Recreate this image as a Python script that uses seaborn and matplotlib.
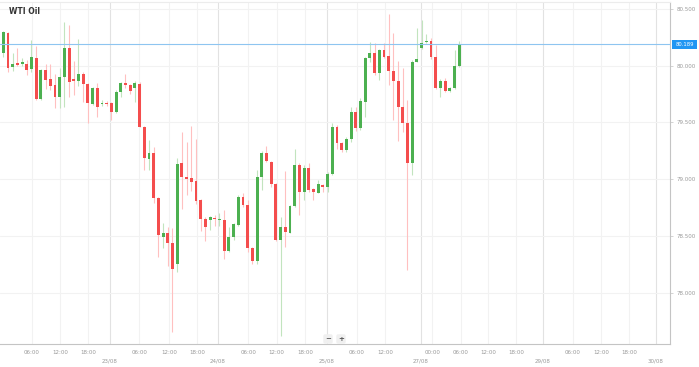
import numpy as np
import pandas as pd
import matplotlib.pyplot as plt
from matplotlib.patches import Rectangle
import seaborn as sns

# Hourly candles (bar index 0..97)
opens = [80.109, 80.285, 79.991, 80.015, 80.012, 80.012, 79.968, 80.065, 79.707, 79.962,
         79.880, 79.830, 79.727, 79.898, 80.153, 79.880, 79.865, 79.927, 79.839, 79.660,
         79.801, 79.660, 79.674, 79.669, 79.595, 79.771, 79.845, 79.830, 79.801, 79.839,
         79.463, 79.178, 79.229, 78.832, 78.496, 78.530, 78.436, 78.254, 79.140, 79.022,
         79.008, 78.987, 78.817, 78.650, 78.641, 78.656, 78.641, 78.641, 78.371, 78.494,
         78.597, 78.848, 78.773, 78.398, 78.283, 79.022, 79.234, 79.155, 78.958, 78.465,
         78.582, 78.530, 78.765, 79.126, 78.890, 79.097, 78.912, 78.883, 78.950, 78.934,
         79.046, 79.464, 79.319, 79.258, 79.352, 79.595, 79.449, 79.683, 80.065, 80.114,
         79.933, 80.138, 80.085, 79.953, 79.865, 79.633, 79.493, 79.146, 80.035, 80.158,
         80.208, 80.220, 80.074, 79.801, 79.868, 79.777, 79.801, 79.997]
highs = [80.305, 80.296, 80.109, 80.153, 80.065, 80.050, 80.226, 80.176, 79.971, 80.012,
         80.015, 79.927, 79.977, 80.387, 80.358, 80.041, 80.232, 79.947, 79.847, 79.812,
         79.845, 79.698, 79.689, 79.683, 79.786, 79.856, 79.927, 79.839, 79.868, 79.856,
         79.469, 79.346, 79.287, 78.844, 78.611, 78.577, 78.568, 79.184, 79.419, 79.331,
         79.469, 79.354, 78.826, 78.670, 78.677, 78.685, 78.700, 78.729, 78.582, 78.615,
         78.861, 78.876, 78.817, 78.406, 79.081, 79.249, 79.293, 79.163, 78.965, 78.670,
         79.073, 78.773, 79.264, 79.140, 79.126, 79.143, 78.923, 78.994, 78.958, 79.067,
         79.498, 79.478, 79.328, 79.375, 79.633, 79.633, 79.713, 80.076, 80.211, 80.197,
         80.147, 80.197, 80.455, 80.285, 80.041, 79.977, 79.698, 80.050, 80.329, 80.402,
         80.276, 80.243, 80.182, 79.883, 79.889, 79.808, 80.138, 80.220]
lows = [80.079, 79.947, 79.953, 79.997, 80.000, 79.918, 79.947, 79.698, 79.698, 79.792,
        79.786, 79.625, 79.630, 79.634, 79.727, 79.742, 79.821, 79.683, 79.493, 79.654,
        79.551, 79.645, 79.649, 79.522, 79.583, 79.727, 79.803, 79.751, 79.683, 79.456,
        79.081, 79.081, 78.788, 78.318, 78.392, 78.239, 77.658, 78.186, 78.736, 78.861,
        78.899, 78.780, 78.547, 78.459, 78.553, 78.589, 78.589, 78.295, 78.360, 78.465,
        78.589, 78.759, 78.362, 78.254, 78.254, 78.905, 79.152, 78.929, 78.456, 77.620,
        78.406, 78.523, 78.756, 78.685, 78.817, 78.888, 78.817, 78.879, 78.890, 78.890,
        79.038, 79.264, 79.243, 79.243, 79.331, 79.425, 79.434, 79.551, 80.035, 79.918,
        79.874, 80.067, 79.830, 79.522, 79.339, 79.419, 78.201, 79.038, 80.028, 80.147,
        80.199, 80.059, 79.795, 79.721, 79.768, 79.771, 79.795, 79.988]
closes = [80.294, 79.977, 80.012, 80.006, 80.030, 79.962, 80.074, 79.704, 79.962, 79.874,
          79.821, 79.727, 79.903, 80.153, 79.854, 79.865, 79.927, 79.839, 79.669, 79.801,
          79.639, 79.671, 79.660, 79.595, 79.771, 79.845, 79.830, 79.780, 79.845, 79.463,
          79.185, 79.229, 78.838, 78.505, 78.527, 78.436, 78.210, 79.134, 79.017, 78.999,
          78.978, 78.811, 78.650, 78.577, 78.665, 78.648, 78.650, 78.371, 78.494, 78.603,
          78.844, 78.773, 78.398, 78.283, 79.022, 79.234, 79.163, 78.958, 78.465, 78.582,
          78.538, 78.765, 79.126, 78.890, 79.097, 78.905, 78.890, 78.958, 78.936, 79.046,
          79.457, 79.319, 79.258, 79.352, 79.595, 79.449, 79.692, 80.065, 80.114, 79.933,
          80.138, 80.079, 79.953, 79.862, 79.633, 79.493, 79.146, 80.035, 80.056, 80.202,
          80.220, 80.074, 79.801, 79.868, 79.777, 79.801, 79.997, 80.189]

last_price = 80.189

# axis ticks, in bar units
hour_ticks = [6.04, 12.06, 18.09, 28.98, 35.32, 41.21, 52.17, 58.13, 64.19,
              75.26, 81.21, 91.28, 97.38, 103.13, 109.09, 121.21, 127.17, 133.13]
hour_labels = ["06:00", "12:00", "18:00", "06:00", "12:00", "18:00", "06:00", "12:00", "18:00",
               "06:00", "12:00", "00:00", "06:00", "12:00", "18:00", "06:00", "12:00", "18:00"]
date_ticks = [22.64, 45.62, 68.77, 88.81, 114.83, 138.87]
date_labels = ["23/08", "24/08", "25/08", "27/08", "29/08", "30/08"]
price_ticks = [78.0, 78.5, 79.0, 79.5, 80.0, 80.5]

df = pd.DataFrame({"open": opens, "high": highs, "low": lows, "close": closes})
df["x"] = np.arange(len(df))
df["up"] = df["close"] >= df["open"]
df["bottom"] = df[["open", "close"]].min(axis=1)
df["height"] = (df["close"] - df["open"]).abs().clip(lower=0.013)

green, red = "#4cb050", "#f44d4d"
green_wick, red_wick = "#c2e4be", "#ffc0c0"

sns.set_style("white")
plt.rcParams["font.family"] = ["DejaVu Sans"]

fig = plt.figure(figsize=(6.99, 3.67), dpi=100)
ax = fig.add_axes([0, 23 / 367, 670 / 699, 342 / 367])

# grid
for t in hour_ticks:
    ax.axvline(t, color="#f2f2f2", lw=0.8, zorder=0)
for t in date_ticks:
    ax.axvline(t, color="#e2e2e2", lw=0.8, zorder=0)
for p in price_ticks:
    ax.axhline(p, color="#f2f2f2", lw=0.8, zorder=0)

# candles
ax.vlines(df["x"], df["low"], df["high"],
          colors=np.where(df["up"], green_wick, red_wick), lw=0.8, zorder=2)
ax.bar(df["x"], df["height"], bottom=df["bottom"], width=0.6,
       color=np.where(df["up"], green, red), linewidth=0, zorder=3)

ax.axhline(last_price, color="#8ec5f0", lw=0.8, zorder=4)

ax.set_xlim(-0.7, 141.85)
ax.set_ylim(77.55, 80.56)

ax.set_xticks(hour_ticks)
ax.set_xticklabels(hour_labels)
ax.set_xticks(date_ticks, minor=True)
ax.set_xticklabels(date_labels, minor=True)
ax.tick_params(axis="x", which="major", length=2, width=0.6, color="#cccccc",
               pad=2.5, labelsize=4, labelcolor="#999999")
ax.tick_params(axis="x", which="minor", length=6, width=0.6, color="#dddddd",
               pad=4.5, labelsize=4, labelcolor="#999999")

ax.yaxis.tick_right()
ax.set_yticks(price_ticks)
ax.set_yticklabels([f"{p:.3f}" for p in price_ticks])
ax.tick_params(axis="y", length=2.5, width=0.6, color="#cccccc", pad=2,
               labelsize=4, labelcolor="#999999")

ax.spines["left"].set_visible(False)
ax.spines["right"].set_color("#c4c4c4")
ax.spines["bottom"].set_color("#c4c4c4")
ax.spines["top"].set_color("#ececec")
for side in ["right", "bottom", "top"]:
    ax.spines[side].set_linewidth(0.8)

# last price tag
fig.patches.append(Rectangle((672 / 699, 1 - 49 / 367), 25 / 699, 9 / 367,
                             transform=fig.transFigure, facecolor="#2196f3",
                             edgecolor="none"))
fig.text(684.5 / 699, 1 - 44.5 / 367, f"{last_price:.3f}", ha="center", va="center",
         fontsize=3.8, color="white")

fig.text(9 / 699, 1 - 12 / 367, "WTI Oil", fontsize=5.5, fontweight="bold",
         color="#333333", va="center")

# zoom buttons
for xp, s in [(328, "−"), (341, "+")]:
    fig.text(xp / 699, 1 - 339 / 367, s, ha="center", va="center", fontsize=5,
             fontweight="bold", color="#555555",
             bbox=dict(boxstyle="round,pad=0.25", facecolor="#f0f0f0", edgecolor="none"))

fig.savefig("out.png", dpi=100)
